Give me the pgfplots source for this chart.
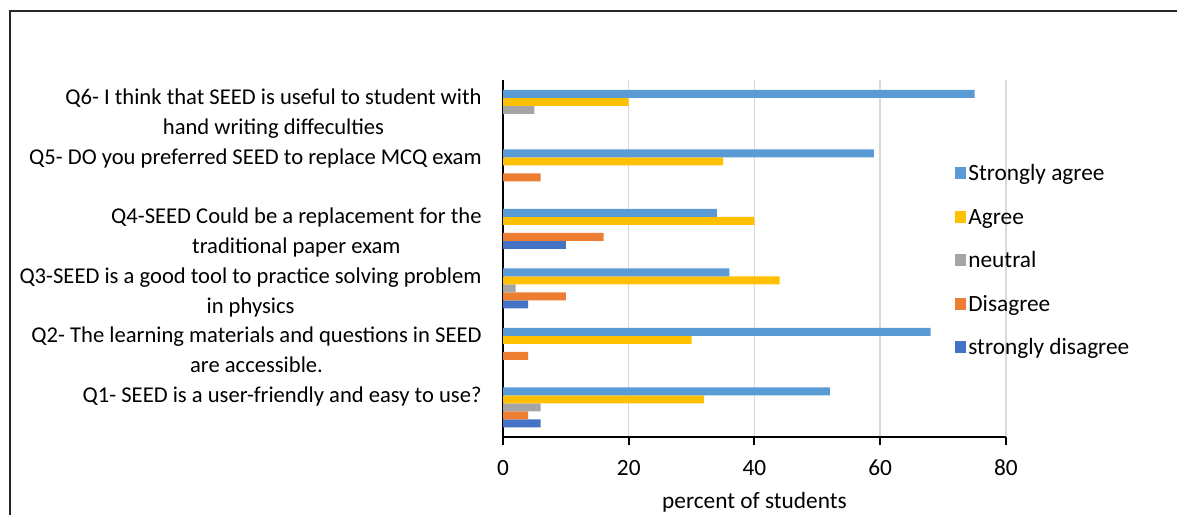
\documentclass[border=0pt]{standalone}
\usepackage{pgfplots}
\pgfplotsset{compat=1.18}
\usepackage{fontspec}
\setmainfont{Carlito}

\definecolor{sagree}{HTML}{5B9BD5}
\definecolor{agree}{HTML}{FFC000}
\definecolor{neutral}{HTML}{A5A5A5}
\definecolor{disagree}{HTML}{ED7D31}
\definecolor{sdisagree}{HTML}{4472C4}

\begin{document}
\begin{tikzpicture}
  \useasboundingbox (0,0) rectangle (588.5pt,257pt);
  % outer frame (only top and left edges are visible)
  \draw[line width=1pt, black!85] (4.75pt,-5pt) -- (4.75pt,251.25pt) -- (600pt,251.25pt);

  \begin{axis}[
    at={(251.5pt,38.5pt)}, anchor=south west,
    scale only axis, width=251.5pt, height=178.5pt,
    xbar=0pt, bar width=4pt,
    xmin=0, xmax=80, ymin=-0.5, ymax=5.5,
    xtick={0,20,40,60,80},
    ytick={0,1,2,3,4,5},
    yticklabels={
      {Q1- SEED is a user-friendly and easy to use?\strut\\\strut},
      {Q2- The learning materials and questions in SEED\strut\\are accessible.\strut},
      {Q3-SEED is a good tool to practice solving problem\strut\\in physics\strut},
      {Q4-SEED Could be a replacement for the\strut\\traditional paper exam\strut},
      {Q5- DO you preferred SEED to replace MCQ exam\strut\\\strut},
      {Q6- I think that SEED is useful to student with\strut\\hand writing diffeculties\strut}},
    axis x line*=bottom, axis y line*=left,
    axis line style={line width=1pt, black},
    x axis line style={-}, y axis line style={-},
    tick align=outside, major tick length=4pt,
    xtick style={line width=1pt, black},
    ytick style={draw=none},
    xmajorgrids, grid style={line width=0.75pt, gray!30},
    font=\fontsize{11.65pt}{15pt}\selectfont,
    /pgf/number format/assume math mode=true,
    yticklabel style={align=center, inner sep=0pt, xshift=-6.5pt, yshift=-1.9pt,
      font=\fontsize{11.3pt}{15pt}\selectfont},
    xticklabel style={font=\fontsize{11.65pt}{15pt}\selectfont, yshift=-4pt},
    xlabel={percent of students},
    xlabel style={at={(axis description cs:0.5,-0.2003)}, anchor=base},
    legend style={at={(0.8986,0.7633)}, anchor=north west, draw=none,
      fill=none, inner sep=0pt, row sep=11.25pt,
      nodes={inner sep=0pt, text height=8pt, text depth=2.5pt, anchor=base west},
      font=\fontsize{11.65pt}{15pt}\selectfont},
    legend cell align=left,
    reverse legend,
    legend image code/.code={\fill[#1] (0pt,0.75pt) rectangle (5.5pt,6.75pt);\path (6.5pt,0pt);},
  ]
    \addplot[fill=sdisagree, draw=none] coordinates {(6,0) (4,2) (10,3)};
    \addplot[fill=disagree, draw=none] coordinates {(4,0) (4,1) (10,2) (16,3) (6,4)};
    \addplot[fill=neutral, draw=none] coordinates {(6,0) (2,2) (5,5)};
    \addplot[fill=agree, draw=none] coordinates {(32,0) (30,1) (44,2) (40,3) (35,4) (20,5)};
    \addplot[fill=sagree, draw=none] coordinates {(52,0) (68,1) (36,2) (34,3) (59,4) (75,5)};
    \legend{strongly disagree, Disagree, neutral, Agree, Strongly agree}
  \end{axis}
\end{tikzpicture}
\end{document}
